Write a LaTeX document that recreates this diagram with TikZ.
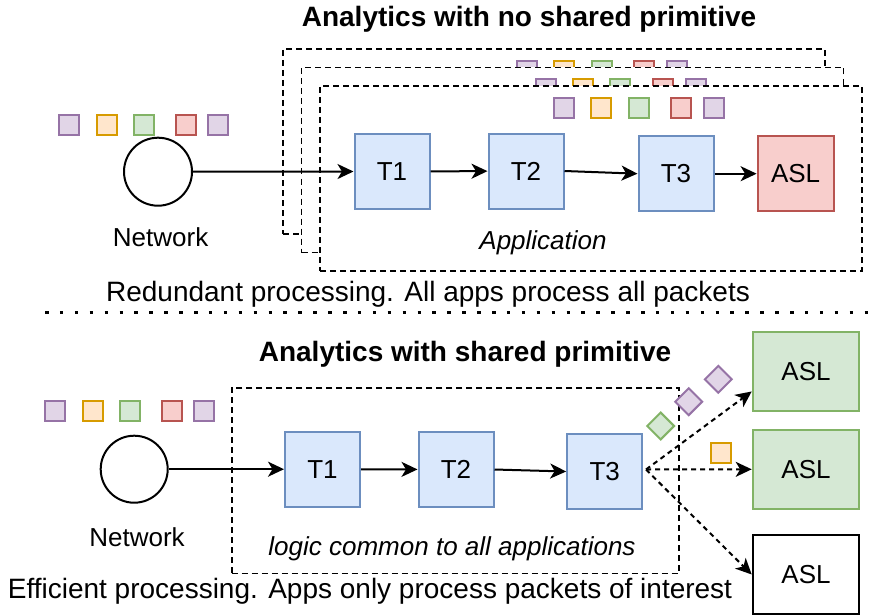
\documentclass[tikz,border=0pt]{standalone}
\usepackage{fontspec}
\setmainfont{Liberation Sans}
\usetikzlibrary{arrows.meta}
\definecolor{blueF}{HTML}{DAE8FC}\definecolor{blueS}{HTML}{6C8EBF}
\definecolor{purF}{HTML}{E1D5E7}\definecolor{purS}{HTML}{9673A6}
\definecolor{orgF}{HTML}{FFE6CC}\definecolor{orgS}{HTML}{D79B00}
\definecolor{grnF}{HTML}{D5E8D4}\definecolor{grnS}{HTML}{82B366}
\definecolor{redF}{HTML}{F8CECC}\definecolor{redS}{HTML}{B85450}
\begin{document}
\begin{tikzpicture}[x=1pt,y=-1pt,
  lbl/.style={font=\fontsize{26}{30}\selectfont, inner sep=0pt},
  captxt/.style={font=\fontsize{28}{32}\selectfont, inner sep=0pt},
  ttl/.style={font=\fontsize{28}{32}\selectfont\bfseries, inner sep=0pt},
  tbox/.style={draw=blueS, fill=blueF, line width=2pt, minimum width=75pt, minimum height=75pt, inner sep=0pt, font=\fontsize{26}{30}\selectfont},
  aslred/.style={tbox, draw=redS, fill=redF, minimum width=76pt},
  aslbox/.style={tbox, draw=grnS, fill=grnF, minimum width=106.6pt, minimum height=78.7pt},
  container/.style={draw=black, fill=white, line width=1.8pt, dash pattern=on 6pt off 4pt, inner sep=0pt},
  pkt/.style={line width=2pt, minimum size=20pt, inner sep=0pt},
  pu/.style={pkt, draw=purS, fill=purF},
  po/.style={pkt, draw=orgS, fill=orgF},
  pg/.style={pkt, draw=grnS, fill=grnF},
  pr/.style={pkt, draw=redS, fill=redF},
  dia/.style={minimum size=19pt, rotate=45},
  net/.style={circle, draw=black, fill=white, line width=2pt, inner sep=0pt},
  arr/.style={line width=2pt, -{Stealth[length=16pt,width=15pt,inset=4.5pt]}},
  darr/.style={arr, dash pattern=on 5pt off 4pt}
]
\useasboundingbox (0,0) rectangle (874,615);

% ---------- top ----------
\node[ttl, anchor=base] (title1) at (529,27) {Analytics with no shared primitive};

\node[pu] (n1) at (69.2,125.3) {};
\node[po] (n2) at (106.5,125.3) {};
\node[pg] (n3) at (143.7,125.3) {};
\node[pr] (n4) at (185.5,125.3) {};
\node[pu] (n5) at (218.2,125.3) {};

\node[net, minimum size=68pt] (net1) at (158,171.7) {};
\node[lbl, anchor=base] (netlbl1) at (160.6,246.7) {Network};

% back application
\node[container, minimum width=542pt, minimum height=185pt] (appC) at (554,141.5) {};
\node[pu] (c1) at (527,71) {};
\node[po] (c2) at (564,71) {};
\node[pg] (c3) at (601.5,71) {};
\node[pr] (c4) at (644,71) {};
\node[pu] (c5) at (677,71) {};
% middle application
\node[container, minimum width=542pt, minimum height=185pt] (appB) at (572.5,160) {};
\node[pu] (b1) at (545.5,89.5) {};
\node[po] (b2) at (582.5,89.5) {};
\node[pg] (b3) at (620,89.5) {};
\node[pr] (b4) at (662.5,89.5) {};
\node[pu] (b5) at (695.5,89.5) {};
% front application
\node[container, minimum width=542pt, minimum height=185pt] (appA) at (591,178.5) {};
\node[pu] (a1) at (564,108) {};
\node[po] (a2) at (601,108) {};
\node[pg] (a3) at (638.5,108) {};
\node[pr] (a4) at (681,108) {};
\node[pu] (a5) at (714,108) {};

\node[tbox] (t1) at (392,171.5) {T1};
\node[tbox] (t2) at (526,171) {T2};
\node[tbox] (t3) at (676,173.7) {T3};
\node[aslred] (asl) at (795.6,173.7) {ASL};
\node[lbl, anchor=base] (applbl) at (543,249) {\itshape Application};

\draw[arr] (net1) -- (t1.west);
\draw[arr] (t1) -- (t2);
\draw[arr] (t2.east) -- (t3.west);
\draw[arr] (t3) -- (asl);

\node[captxt, anchor=base] (cap1) at (428,301) {Redundant processing. All apps process all packets};

% divider
\coordinate (d1) at (45,312.7);
\coordinate (d2) at (872,312.7);
\draw[line width=3.5pt, dash pattern=on 3.5pt off 11.4pt] (d1) -- (d2);

% ---------- bottom ----------
\node[ttl, anchor=base] (title2) at (465,361) {Analytics with shared primitive};

\node[pu] (m1) at (55,411) {};
\node[po] (m2) at (92.5,411) {};
\node[pg] (m3) at (130,411) {};
\node[pr] (m4) at (171.7,411) {};
\node[pu] (m5) at (204,411) {};

\node[net, minimum size=67pt] (net2) at (134.2,469.2) {};
\node[lbl, anchor=base] (netlbl2) at (137,546.7) {Network};

\node[container, minimum width=447.6pt, minimum height=185.5pt] (logic) at (455.5,480.75) {};
\node[lbl, anchor=base] (logiclbl) at (452,555) {\itshape logic common to all applications};

\node[tbox] (u1) at (322.5,469.2) {T1};
\node[tbox] (u2) at (456,469.5) {T2};
\node[tbox] (u3) at (604.7,471.5) {T3};

\node[aslbox] (s1) at (806,371.7) {ASL};
\node[aslbox] (s2) at (806,469.3) {ASL};
\node[aslbox, draw=black, fill=white] (s3) at (806,574.5) {ASL};

\draw[arr] (net2) -- (u1.west);
\draw[arr] (u1) -- (u2);
\draw[arr] (u2.east) -- (u3.west);

\coordinate (fork) at (646,469.5);
\draw[darr] (fork) -- (s1.200);
\draw[darr] (fork) -- (s2.west);
\draw[darr] (fork) -- (s3.west);

\node[pg, dia] (dg) at (660.7,426) {};
\node[pu, dia] (dp1) at (688.7,401.7) {};
\node[pu, dia] (dp2) at (718.3,379.3) {};
\node[po] (so) at (720.5,453.3) {};

\node[captxt, anchor=base] (cap2) at (370,598.3) {Efficient processing. Apps only process packets of interest};
\end{tikzpicture}
\end{document}
